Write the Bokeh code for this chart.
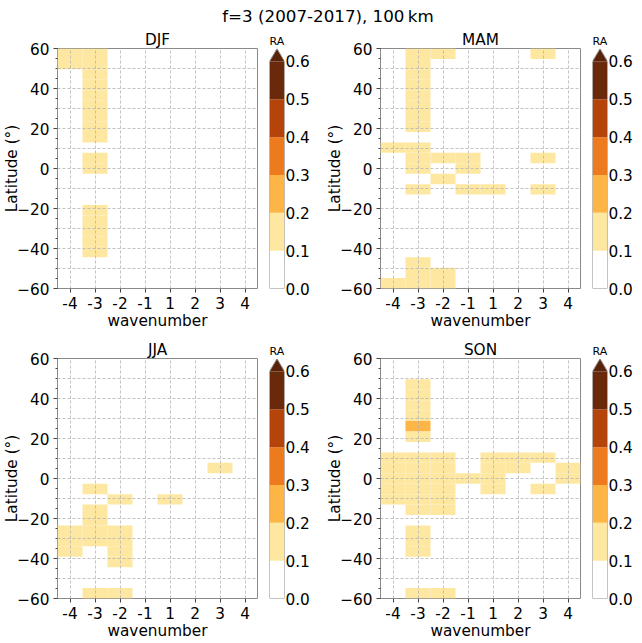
from bokeh.plotting import figure
from bokeh.models import (Range1d, FixedTicker, LinearColorMapper, Div,
                          ColumnDataSource, NumeralTickFormatter)
from bokeh.layouts import column, row
from bokeh.transform import transform
from bokeh.embed import file_html
from bokeh.resources import INLINE

FONT = "DejaVu Sans"
FS = "15.3px"

# ---------------- data ----------------
suptitle = "f=3 (2007-2017), 100\u2009km"
wavenumbers = [-4, -3, -2, -1, 1, 2, 3, 4]
wave_labels = ["-4", "-3", "-2", "-1", "1", "2", "3", "4"]
lat_centers = [-55, -50, -45, -40, -35, -30, -25, -20, -15, -10, -5, 0,
               5, 10, 15, 20, 25, 30, 35, 40, 45, 50, 55]
lat_extent = [-60, 60]
lat_ticks = [-60, -40, -20, 0, 20, 40, 60]
ra_levels = [0.0, 0.1, 0.2, 0.3, 0.4, 0.5, 0.6]
ra_colors = ["#ffffff", "#fee8a1", "#fdb646", "#ee7a1e", "#b5440b", "#6a290b"]
ra_over_color = "#5a2309"

djf_wave = [-4, -4,
            -3, -3, -3, -3, -3, -3, -3, -3, -3, -3, -3, -3, -3, -3, -3, -3]
djf_lat = [55, 50,
           55, 50, 45, 40, 35, 30, 25, 20, 15, 5, 0, -20, -25, -30, -35, -40]
djf_ra = [0.12, 0.11,
          0.14, 0.15, 0.16, 0.15, 0.14, 0.13, 0.13, 0.12, 0.11, 0.12, 0.11,
          0.12, 0.13, 0.14, 0.13, 0.12]

mam_wave = [-4, -4,
            -3, -3, -3, -3, -3, -3, -3, -3, -3, -3, -3, -3, -3, -3, -3,
            -2, -2, -2, -2, -2,
            -1, -1, -1,
            1,
            3, 3, 3]
mam_lat = [10, -55,
           55, 50, 45, 40, 35, 30, 25, 20, 10, 5, 0, -10, -45, -50, -55,
           55, 5, -5, -50, -55,
           5, 0, -10,
           -10,
           55, 5, -10]
mam_ra = [0.11, 0.12,
          0.13, 0.14, 0.15, 0.15, 0.14, 0.13, 0.12, 0.11, 0.12, 0.13, 0.12,
          0.11, 0.12, 0.13, 0.12,
          0.11, 0.12, 0.11, 0.12, 0.11,
          0.12, 0.11, 0.11,
          0.11,
          0.11, 0.12, 0.11]

jja_wave = [-4, -4, -4,
            -3, -3, -3, -3, -3, -3,
            -2, -2, -2, -2, -2, -2,
            1,
            3]
jja_lat = [-25, -30, -35,
           -5, -15, -20, -25, -30, -55,
           -10, -25, -30, -35, -40, -55,
           -10,
           5]
jja_ra = [0.12, 0.13, 0.12,
          0.11, 0.12, 0.13, 0.14, 0.13, 0.12,
          0.11, 0.13, 0.14, 0.13, 0.12, 0.11,
          0.11,
          0.11]

son_wave = [-4, -4, -4, -4, -4,
            -3, -3, -3, -3, -3, -3, -3, -3, -3, -3, -3, -3, -3, -3, -3, -3,
            -2, -2, -2, -2, -2, -2, -2,
            -1,
            1, 1, 1, 1,
            2, 2,
            3, 3,
            4, 4]
son_lat = [10, 5, 0, -5, -10,
           45, 40, 35, 30, 25, 20, 10, 5, 0, -5, -10, -15, -25, -30, -35, -55,
           10, 5, 0, -5, -10, -15, -55,
           0,
           10, 5, 0, -5,
           10, 5,
           10, -5,
           5, 0]
son_ra = [0.12, 0.13, 0.14, 0.13, 0.12,
          0.13, 0.14, 0.15, 0.17, 0.23, 0.15, 0.14, 0.15, 0.16, 0.15, 0.14,
          0.12, 0.12, 0.13, 0.12, 0.11,
          0.13, 0.14, 0.15, 0.14, 0.13, 0.12, 0.11,
          0.11,
          0.12, 0.13, 0.12, 0.11,
          0.12, 0.11,
          0.11, 0.11,
          0.12, 0.11]

# ---------------- helpers ----------------
mapper = LinearColorMapper(palette=ra_colors, low=ra_levels[0], high=ra_levels[-1],
                           high_color=ra_over_color)
dlat = (lat_extent[1] - lat_extent[0]) / len(lat_centers)

FRAME_W, FRAME_H = 200, 240   # panel frame size in px
BAR_W = 15                    # colour bar width in px
BAR_H = 227.3                 # px from 0.0 to 0.6 (rest is the extension triangle)


def cell_source(waves, lats, ras):
    xi = [wavenumbers.index(w) for w in waves]
    yj = [lat_centers.index(v) for v in lats]
    return ColumnDataSource(dict(
        left=[i - 0.5 for i in xi], right=[i + 0.5 for i in xi],
        bottom=[lat_extent[0] + j * dlat for j in yj],
        top=[lat_extent[0] + (j + 1) * dlat for j in yj],
        ra=ras))


def style_title(p, size, align, standoff):
    p.title.align = align
    p.title.text_font = FONT
    p.title.text_font_size = size
    p.title.text_font_style = "normal"
    p.title.text_color = "#000000"
    p.title.standoff = standoff
    p.title.offset = 0


def panel(name, waves, lats, ras, bl, bt, bb):
    p = figure(frame_width=FRAME_W, frame_height=FRAME_H, title=name,
               x_range=Range1d(-0.5, len(wavenumbers) - 0.5),
               y_range=Range1d(lat_extent[0], lat_extent[1]),
               output_backend="svg", toolbar_location=None, tools="",
               min_border_left=bl, min_border_right=4,
               min_border_top=bt, min_border_bottom=bb)
    style_title(p, FS, "center", 0)
    src = cell_source(waves, lats, ras)
    p.quad(left="left", right="right", bottom="bottom", top="top", source=src,
           fill_color=transform("ra", mapper), line_color=None)
    pos = list(range(len(wavenumbers)))
    p.xaxis.ticker = FixedTicker(ticks=pos)
    p.xaxis.major_label_overrides = {i: s for i, s in zip(pos, wave_labels)}
    p.yaxis.ticker = FixedTicker(ticks=lat_ticks,
                                 minor_ticks=list(range(-60, 61, 5)))
    p.xaxis.axis_label = "wavenumber"
    p.yaxis.axis_label = "Latitude (\u00b0)"
    for ax in (p.xaxis[0], p.yaxis[0]):
        ax.axis_label_text_font = FONT
        ax.axis_label_text_font_size = FS
        ax.axis_label_text_font_style = "normal"
        ax.axis_label_text_color = "#000000"
        ax.major_label_text_font = FONT
        ax.major_label_text_font_size = FS
        ax.major_label_text_color = "#000000"
        ax.axis_line_color = None
        ax.major_tick_line_color = "#444444"
        ax.minor_tick_line_color = "#444444"
        ax.major_tick_out = 4
        ax.major_tick_in = 0
        ax.minor_tick_out = 2
        ax.minor_tick_in = 0
        ax.major_label_standoff = 4
    p.xaxis.axis_label_standoff = 0
    p.yaxis.axis_label_standoff = -7
    p.xaxis.minor_tick_line_color = None
    p.xgrid.ticker = FixedTicker(ticks=pos)
    p.ygrid.ticker = FixedTicker(ticks=list(range(-60, 61, 10)))
    for g in (p.xgrid[0], p.ygrid[0]):
        g.grid_line_color = "#b4b4b4"
        g.grid_line_dash = "3 2"
        g.grid_line_width = 0.8
        g.level = "overlay"
    p.outline_line_color = "#8a8a8a"
    p.outline_line_width = 1
    return p


def colorbar(br, bt, bb):
    unit = ra_levels[-1] / BAR_H
    top = ra_levels[-1] * FRAME_H / BAR_H
    p = figure(frame_width=BAR_W, frame_height=FRAME_H, title="RA",
               x_range=Range1d(0, 1), y_range=Range1d(ra_levels[0], top + 0.3 * unit),
               output_backend="svg", toolbar_location=None, tools="",
               x_axis_location=None, y_axis_location="right",
               min_border_left=8, min_border_right=br,
               min_border_top=bt, min_border_bottom=bb)
    style_title(p, "11px", "left", 1)
    src = ColumnDataSource(dict(
        bottom=ra_levels[:-1], top=ra_levels[1:],
        mid=[(a + b) / 2 for a, b in zip(ra_levels[:-1], ra_levels[1:])]))
    p.quad(left=0, right=1, bottom="bottom", top="top", source=src,
           fill_color=transform("mid", mapper), line_color=None)
    p.patch(x=[0, 1, 0.5], y=[ra_levels[-1], ra_levels[-1], top],
            fill_color=ra_over_color, line_color=None)
    p.line(x=[0, 1, 1, 0.5, 0, 0], y=[0, 0, ra_levels[-1], top, ra_levels[-1], 0],
           line_color="#8a8a8a", line_width=1)
    ax = p.yaxis[0]
    ax.ticker = FixedTicker(ticks=ra_levels)
    ax.formatter = NumeralTickFormatter(format="0.0")
    ax.major_label_text_font = FONT
    ax.major_label_text_font_size = FS
    ax.major_label_text_color = "#000000"
    ax.axis_line_color = None
    ax.major_tick_line_color = None
    ax.minor_tick_line_color = None
    ax.major_tick_out = 0
    ax.major_tick_in = 0
    ax.major_label_standoff = 1
    p.grid.visible = False
    p.outline_line_color = None
    return p


p_djf = panel("DJF", djf_wave, djf_lat, djf_ra, 56, 24, 44)
c_djf = colorbar(31, 24, 44)
p_mam = panel("MAM", mam_wave, mam_lat, mam_ra, 65, 24, 44)
c_mam = colorbar(28, 24, 44)
p_jja = panel("JJA", jja_wave, jja_lat, jja_ra, 56, 26, 44)
c_jja = colorbar(31, 26, 44)
p_son = panel("SON", son_wave, son_lat, son_ra, 65, 26, 44)
c_son = colorbar(28, 26, 44)

head = Div(text=suptitle, width=634, height=14,
           styles={"font-family": FONT, "font-size": "16.7px",
                   "text-align": "center", "line-height": "16px",
                   "padding-left": "12px", "padding-top": "3px",
                   "box-sizing": "border-box", "color": "#000000",
                   "overflow": "visible"})

layout = column(head,
                row(p_djf, c_djf, p_mam, c_mam),
                row(p_jja, c_jja, p_son, c_son))

open("out.html", "w").write(file_html(layout, INLINE))
